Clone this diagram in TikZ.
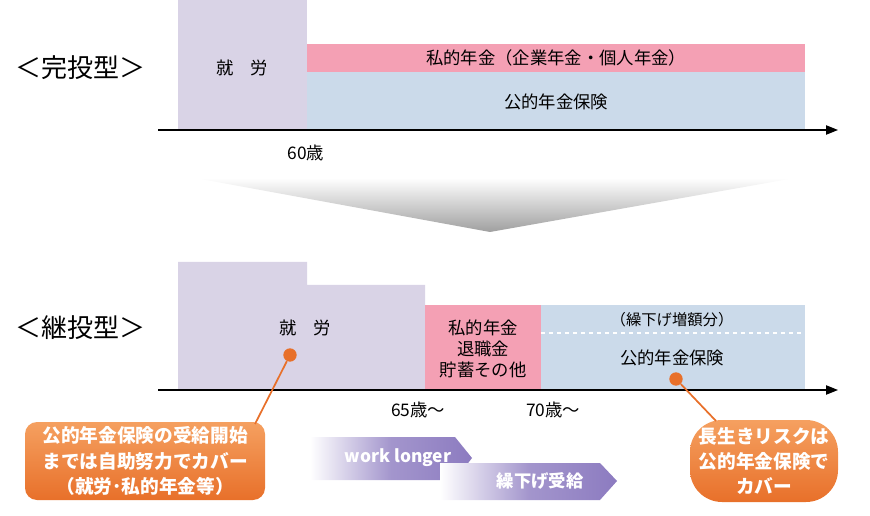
\documentclass[tikz,border=0pt]{standalone}
\usepackage{fontspec}
\setmainfont{Noto Sans CJK JP}
\usetikzlibrary{arrows.meta}
\definecolor{work}{HTML}{D9D3E6}
\definecolor{pnk}{HTML}{F4A0B4}
\definecolor{blu}{HTML}{CBDAEA}
\definecolor{org}{HTML}{E8702A}
\definecolor{orgL}{HTML}{F5A060}
\definecolor{pur}{HTML}{8C7BC0}
\tikzset{
 lbl/.style={font=\fontsize{13}{16}\selectfont,align=center,inner sep=0},
 big/.style={font=\fontsize{19.5}{22}\selectfont,inner sep=0},
 axis/.style={-{Triangle[length=9pt,width=7pt]},line width=0.9pt},
 ctext/.style={align=center,inner sep=0,text=white,font=\fontsize{14}{19}\selectfont\bfseries},
 dot/.style={circle,fill=org,inner sep=0,minimum size=10pt},
 leader/.style={org,line width=1.3pt},
 atext/.style={inner sep=0,text=white,font=\fontsize{13}{15}\selectfont\bfseries}
}
\begin{document}
\begin{tikzpicture}[x=0.75pt,y=-0.75pt]
\useasboundingbox (0,0) rectangle (870,516);
% top
\fill[work] (178,0) rectangle (307,130);
\fill[pnk] (307,44) rectangle (805,72);
\fill[blu] (307,72) rectangle (805,130);
\node[lbl] (w1) at (242,68) {就\quad 労};
\node[lbl] (p1) at (556,58) {私的年金（企業年金・個人年金）};
\node[lbl] (b1) at (556,102) {公的年金保険};
\coordinate (a1s) at (158,130); \coordinate (a1e) at (838,130);
\draw[axis] (a1s) -- (a1e);
\node[lbl] (t60) at (306,153) {60歳};
\node[big] (h1) at (80,68) {＜完投型＞};
% chevron
\shade[top color=white,bottom color=gray!75] (195,178) -- (795,178) -- (490,232) -- cycle;
% bottom
\fill[work] (178,262) -- (307,262) -- (307,285) -- (425,285) -- (425,390) -- (178,390) -- cycle;
\fill[pnk] (425,305) rectangle (541,390);
\fill[blu] (541,305) rectangle (805,390);
\draw[white,dashed,line width=0.8pt] (541,333) -- (805,333);
\node[lbl] (w2) at (305,328) {就\quad 労};
\node[lbl] (p2) at (483,349) {私的年金\\退職金\\貯蓄その他};
\node[lbl,font=\fontsize{11.5}{14}\selectfont] (b2a) at (672,320) {（繰下げ増額分）};
\node[lbl] (b2) at (672,358) {公的年金保険};
\coordinate (a2s) at (158,390); \coordinate (a2e) at (838,390);
\draw[axis] (a2s) -- (a2e);
\node[lbl] (t65) at (418,410) {65歳～};
\node[lbl] (t70) at (553,410) {70歳～};
\node[big] (h2) at (80,328) {＜継投型＞};
% callouts
\shade[top color=orgL,bottom color=org,rounded corners=9pt] (25,422) rectangle (265,500);
\node[ctext] (c1) at (145,461) {公的年金保険の受給開始\\までは自助努力でカバー\\（就労･私的年金等）};
\shade[top color=orgL,bottom color=org,rounded corners=24pt] (690,420) rectangle (838,502);
\node[ctext] (c2) at (764,461) {長生きリスクは\\公的年金保険で\\カバー};
\node[dot] (d1) at (290,355) {};
\node[dot] (d2) at (676,379) {};
\draw[leader] (d1) -- (255,424);
\draw[leader] (d2) -- (716,421);
% arrows
\shade[left color=white,right color=pur,middle color=pur!80] (310,437) -- (455,437) -- (472,458) -- (455,480) -- (310,480) -- cycle;
\node[atext] (wl) at (398,458) {work longer};
\shade[left color=white,right color=pur,middle color=pur!80] (440,463) -- (600,463) -- (617,481) -- (600,500) -- (440,500) -- cycle;
\node[atext] (kr) at (540,481) {繰下げ受給};
\end{tikzpicture}
\end{document}
